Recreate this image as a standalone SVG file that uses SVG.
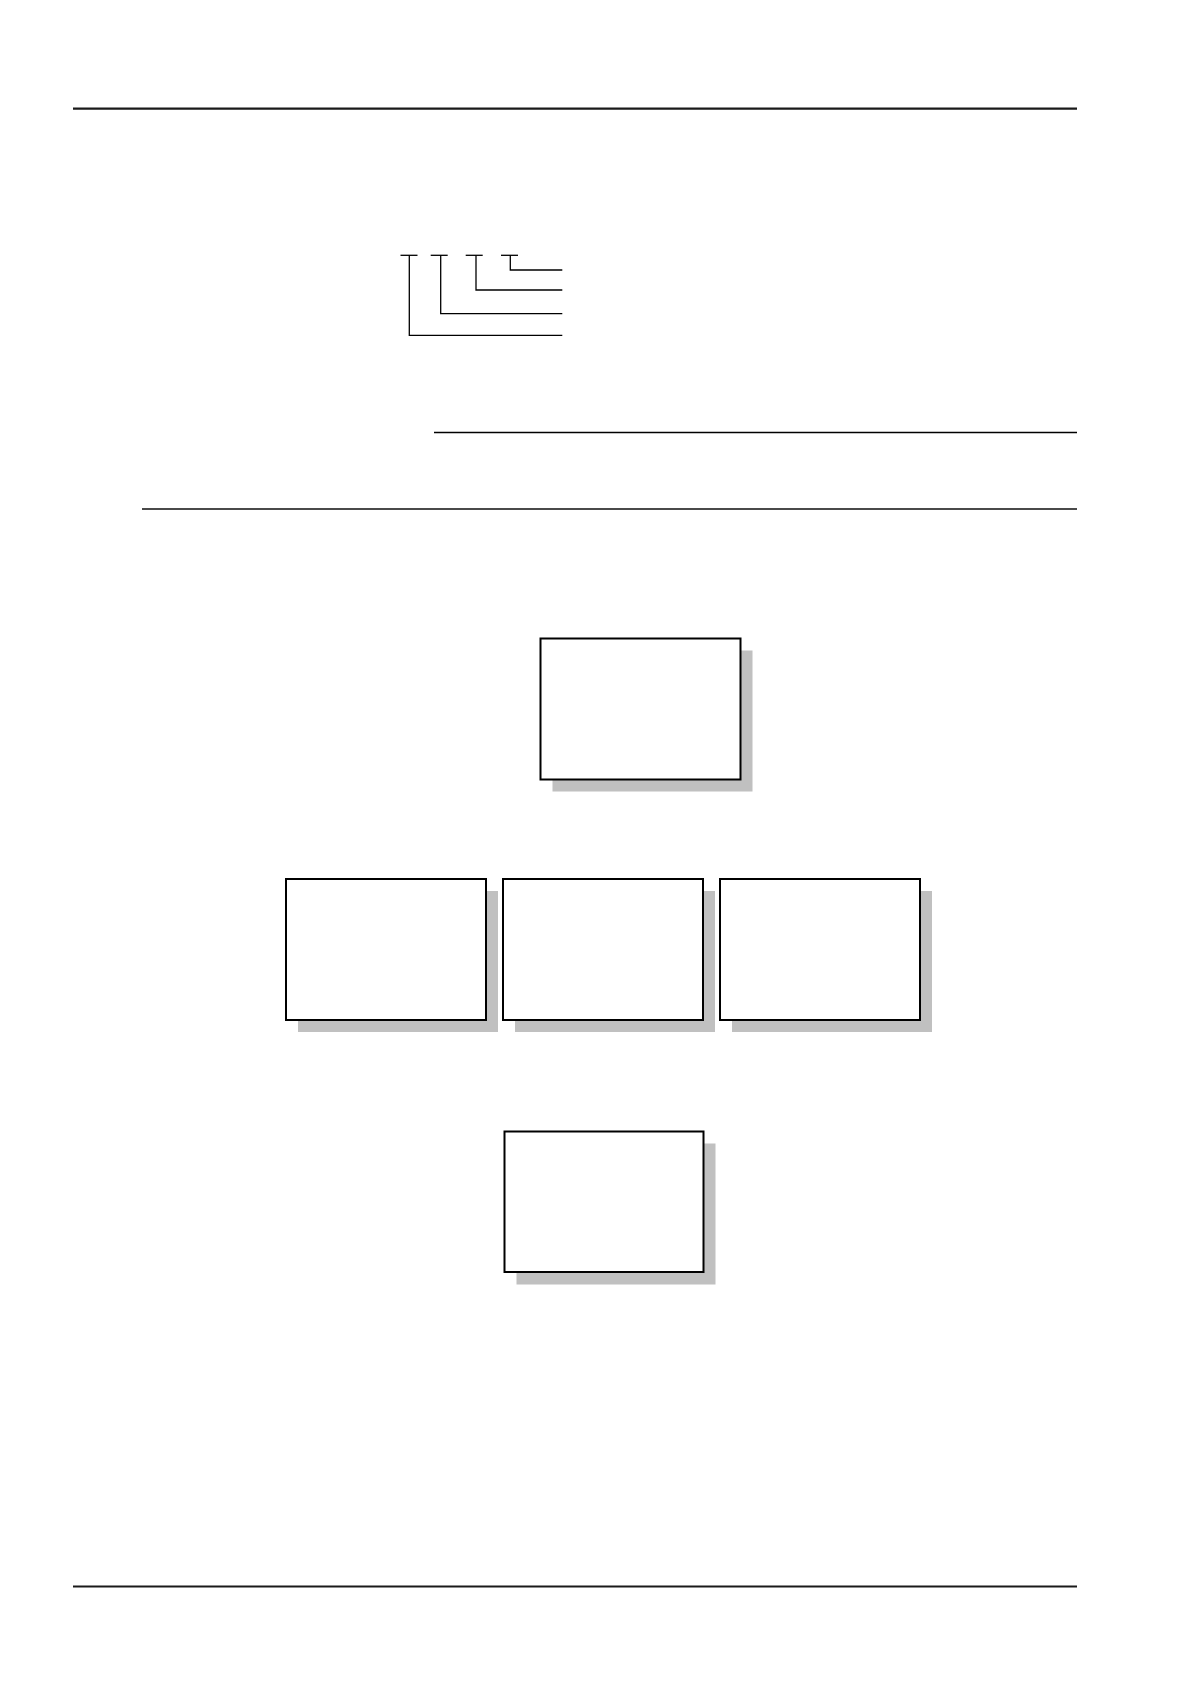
<svg xmlns="http://www.w3.org/2000/svg" width="1190" height="1684" viewBox="0 0 1190 1684">
  <style>
    .rule { stroke: #1a1a1a; stroke-width: 2.2; fill: none; }
    .thin { stroke: #000; stroke-width: 1.3; fill: none; }
    .grey { stroke: #4a4a4a; stroke-width: 1.8; fill: none; }
    .box { fill: #fff; stroke: #000; stroke-width: 2; }
    .shadow { fill: #c0c0c0; stroke: none; }
  </style>
  <rect width="1190" height="1684" fill="#fff"/>
  <g id="rules">
    <line class="rule" x1="73" y1="108.7" x2="1077" y2="108.7"/>
    <line class="thin" x1="434" y1="432.5" x2="1077" y2="432.5"/>
    <line class="grey" x1="142" y1="509" x2="1077" y2="509"/>
    <line class="rule" x1="73" y1="1586.5" x2="1077" y2="1586.5"/>
  </g>
  <g id="connectors">
    <line class="thin" x1="400.5" y1="255.3" x2="417.5" y2="255.3"/>
    <line class="thin" x1="430.7" y1="255.3" x2="447.7" y2="255.3"/>
    <line class="thin" x1="465.7" y1="255.3" x2="482.7" y2="255.3"/>
    <line class="thin" x1="501" y1="255.3" x2="518" y2="255.3"/>
    <polyline class="thin" points="510.3,255.3 510.3,270 562.3,270"/>
    <polyline class="thin" points="476,255.3 476,290 562.3,290"/>
    <polyline class="thin" points="440.7,255.3 440.7,313.7 562.3,313.7"/>
    <polyline class="thin" points="409.3,255.3 409.3,335.3 562.3,335.3"/>
  </g>
  <g id="node-top">
    <rect class="shadow" x="552.5" y="650.5" width="200" height="141"/>
    <rect class="box" x="540.5" y="638.5" width="200" height="141"/>
  </g>
  <g id="node-mid-1">
    <rect class="shadow" x="298" y="891" width="200" height="141"/>
    <rect class="box" x="286" y="879" width="200" height="141"/>
  </g>
  <g id="node-mid-2">
    <rect class="shadow" x="515" y="891" width="200" height="141"/>
    <rect class="box" x="503" y="879" width="200" height="141"/>
  </g>
  <g id="node-mid-3">
    <rect class="shadow" x="732" y="891" width="200" height="141"/>
    <rect class="box" x="720" y="879" width="200" height="141"/>
  </g>
  <g id="node-bottom">
    <rect class="shadow" x="516.5" y="1143.5" width="199" height="141"/>
    <rect class="box" x="504.5" y="1131.5" width="199" height="140.5"/>
  </g>
</svg>
